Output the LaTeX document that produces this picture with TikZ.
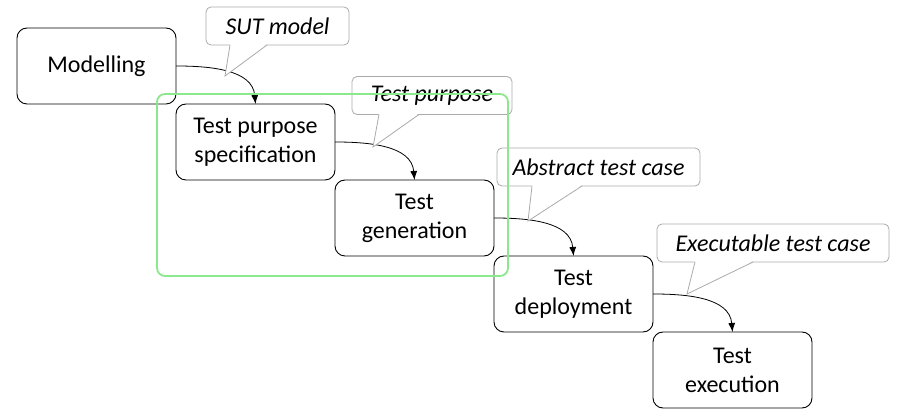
\documentclass[tikz,border=0pt]{standalone}
\usepackage{fontspec}
\setmainfont{Carlito}
\usetikzlibrary{positioning,calc,arrows.meta}

\definecolor{groupgreen}{RGB}{140,232,140}
\definecolor{callgray}{RGB}{170,170,170}

\tikzset{
  stepbox/.style={draw,line width=0.9pt,rounded corners=10pt,fill=white,outer sep=0pt,
    minimum width=159pt,minimum height=76pt,align=center,
    font=\fontsize{24}{29}\selectfont},
  callbox/.style={draw=callgray,line width=0.8pt,rounded corners=5pt,fill=white,outer sep=0pt,
    minimum height=38pt,font=\fontsize{24}{28}\selectfont\itshape},
  callline/.style={draw=callgray,line width=0.8pt},
  flow/.style={-{Latex[length=9pt,width=7pt]},line width=0.8pt}
}

% spids fra en kommentarboks ned til en pil
\newcommand{\callpointer}[4]{%
  \fill[white] ($(#1.south west)+(#2,-1.2)$) -- #4 -- ($(#1.south west)+(#3,-1.2)$) -- cycle;
  \draw[callline] ($(#1.south west)+(#2,0)$) -- #4 -- ($(#1.south west)+(#3,0)$);}

\begin{document}
\begin{tikzpicture}[x=1pt,y=-1pt]
\useasboundingbox (0,0) rectangle (900,419);

% trin i processen
\node[stepbox,anchor=north west] (mod) at (17,28) {Modelling};
\node[stepbox,anchor=north west] (tps) at (mod.south east) {Test purpose\\specification};
\node[stepbox,anchor=north west] (tg) at (tps.south east) {Test\\generation};
\node[stepbox,anchor=north west] (td) at (tg.south east) {Test\\deployment};
\node[stepbox,anchor=north west] (te) at (td.south east) {Test\\execution};

% pile
\draw[flow] (mod.east) to[out=0,in=95] (tps.north);
\draw[flow] (tps.east) to[out=0,in=95] (tg.north);
\draw[flow] (tg.east) to[out=0,in=95] (td.north);
\draw[flow] (td.east) to[out=0,in=95] (te.north);

% kommentarer
\node[callbox,minimum width=143pt] (sut) at (277.5,26) {SUT model};
\node[callbox,minimum width=160pt] (tp) at (432,95.5) {Test purpose};
\node[callbox,minimum width=203pt] (atc) at (598.5,167) {Abstract test case};
\node[callbox,minimum width=232pt] (etc) at (773,243) {Executable test case};
\callpointer{sut}{24}{61}{(225,76)}
\callpointer{tp}{27}{67}{(373,147)}
\callpointer{atc}{35}{85}{(528,221)}
\callpointer{etc}{38}{96}{(687,294)}

% gruppe
\draw[groupgreen,line width=1.8pt,rounded corners=8pt] (157,94) rectangle (508,276);
\end{tikzpicture}
\end{document}
